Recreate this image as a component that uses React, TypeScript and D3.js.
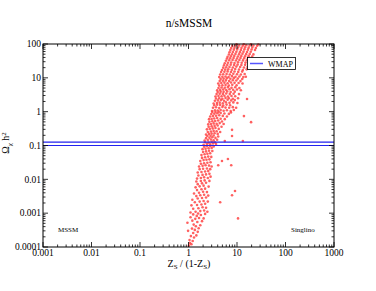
import React, { useEffect, useRef } from 'react'
import * as d3 from 'd3'

// axis decades
const xTicks = [0.001, 0.01, 0.1, 1, 10, 100, 1000]
const xTickLabels = ['0.001', '0.01', '0.1', '1', '10', '100', '1000']
const yTicks = [0.0001, 0.001, 0.01, 0.1, 1, 10, 100]
const yTickLabels = ['0.0001', '0.001', '0.01', '0.1', '1', '10', '100']

// WMAP band (relic density)
const wmap = [0.1, 0.126]

// scan points [Zs/(1-Zs), Omega h^2]
const scanLow: number[][] = [
  [1.02,1.1e-4],[1.08,1.3e-4],[1.15,1.2e-4],[1.05,1.6e-4],[1.22,1.5e-4],[1.3,1.9e-4],[1.12,2.1e-4],[1.45,2.2e-4],
  [1.25,2.6e-4],[1.55,2.8e-4],[0.98,3.0e-4],[1.35,3.2e-4],[1.18,3.5e-4],[1.62,3.6e-4],[1.42,4.1e-4],[1.28,4.6e-4],
  [1.75,4.4e-4],[0.95,5.2e-4],[1.52,5.5e-4],[1.2,6.0e-4],[1.9,5.8e-4],[1.38,6.8e-4],[1.65,7.2e-4],[1.1,7.6e-4],
  [2.05,7.0e-4],[1.48,8.3e-4],[1.8,8.8e-4],[1.25,9.2e-4],[2.2,9.5e-4],[1.58,9.8e-4],
  [1.1,1.05e-3],[1.4,1.1e-3],[1.75,1.15e-3],[2.1,1.2e-3],[2.45,1.1e-3],[1.25,1.35e-3],[1.6,1.4e-3],[1.95,1.5e-3],
  [2.3,1.45e-3],[1.15,1.7e-3],[1.5,1.75e-3],[1.85,1.8e-3],[2.2,1.9e-3],[1.35,2.1e-3],[1.7,2.2e-3],[2.05,2.3e-3],
  [2.5,2.2e-3],[1.2,2.5e-3],[1.55,2.7e-3],[1.9,2.8e-3],[2.3,2.9e-3],[1.45,3.2e-3],[1.75,3.4e-3],[2.1,3.5e-3],
  [2.55,3.3e-3],[1.3,3.8e-3],[1.65,4.0e-3],[2.0,4.3e-3],[2.4,4.2e-3],[1.5,4.8e-3],[1.85,5.1e-3],[2.2,5.3e-3],
  [1.4,5.8e-3],[1.7,6.2e-3],[2.05,6.5e-3],[2.6,6.1e-3],[1.55,7.2e-3],[1.9,7.6e-3],[2.3,7.9e-3],[1.45,8.6e-3],
  [1.8,8.9e-3],[2.15,9.3e-3],[2.7,9.0e-3],
  [1.5,1.05e-2],[1.8,1.1e-2],[2.1,1.15e-2],[2.5,1.1e-2],[2.85,1.2e-2],[1.6,1.3e-2],[1.95,1.35e-2],[2.3,1.4e-2],
  [2.7,1.45e-2],[1.55,1.6e-2],[1.85,1.65e-2],[2.2,1.7e-2],[2.55,1.75e-2],[1.7,2.0e-2],[2.0,2.05e-2],[2.4,2.1e-2],
  [2.8,2.0e-2],[1.65,2.4e-2],[1.95,2.5e-2],[2.25,2.6e-2],[2.65,2.55e-2],[3.0,2.4e-2],[1.8,2.9e-2],[2.1,3.0e-2],
  [2.45,3.1e-2],[2.85,3.2e-2],[1.75,3.5e-2],[2.05,3.7e-2],[2.35,3.8e-2],[2.7,3.9e-2],[1.9,4.3e-2],[2.2,4.5e-2],
  [2.55,4.7e-2],[2.95,4.6e-2],[1.85,5.2e-2],[2.15,5.5e-2],[2.45,5.7e-2],[2.8,5.9e-2],[2.0,6.4e-2],[2.3,6.7e-2],
  [2.65,7.0e-2],[3.1,6.9e-2],[1.95,7.8e-2],[2.25,8.0e-2],[2.6,8.3e-2],[3.0,8.5e-2],[2.1,9.2e-2],[2.4,9.5e-2],
  [2.8,9.7e-2],[3.3,9.4e-2],
]

const scanMid: number[][] = [
  [2.05,0.105],[2.4,0.11],[2.8,0.108],[3.2,0.115],[3.7,0.11],[2.2,0.125],[2.6,0.122],[3.0,0.128],[3.5,0.124],
  [2.15,0.14],[2.5,0.145],[2.9,0.15],[3.3,0.142],[3.9,0.148],[2.3,0.165],[2.7,0.17],[3.1,0.175],[3.6,0.168],
  [2.45,0.19],[2.85,0.195],[3.3,0.198],[4.1,0.185],
  [2.3,0.21],[2.65,0.22],[3.0,0.225],[3.45,0.23],[4.0,0.22],[2.5,0.25],[2.9,0.26],[3.3,0.27],[3.8,0.265],[4.5,0.25],
  [2.4,0.3],[2.75,0.31],[3.15,0.32],[3.6,0.33],[4.2,0.31],[2.6,0.36],[3.0,0.37],[3.45,0.38],[4.0,0.39],[4.8,0.36],
  [2.55,0.42],[2.9,0.43],[3.3,0.45],[3.8,0.44],[4.4,0.46],[5.3,0.43],[2.7,0.5],[3.1,0.52],[3.55,0.53],[4.1,0.55],
  [4.9,0.51],[2.65,0.6],[3.0,0.61],[3.4,0.63],[3.9,0.65],[4.6,0.62],[5.6,0.6],
  [2.8,0.72],[3.2,0.74],[3.7,0.76],[4.3,0.78],[5.1,0.75],[6.2,0.72],[2.95,0.85],[3.4,0.87],[3.95,0.9],[4.6,0.92],
  [5.5,0.88],[6.8,0.86],[3.1,0.98],[3.6,0.97],[4.2,0.99],[7.5,0.95],
  [3.05,1.05],[3.5,1.1],[4.0,1.08],[4.6,1.12],[5.3,1.06],[6.2,1.1],[7.4,1.04],[8.6,1.12],[3.2,1.3],[3.7,1.35],
  [4.3,1.28],[5.0,1.38],[5.8,1.32],[6.9,1.3],[8.2,1.36],[9.6,1.3],[3.4,1.55],[3.9,1.6],[4.5,1.58],[5.2,1.52],
  [6.1,1.62],[7.2,1.55],
  [3.3,1.75],[3.85,1.8],[4.4,1.85],[5.1,1.78],[5.9,1.9],[7.0,1.82],[8.4,1.88],[10.2,1.8],[3.5,2.1],[4.05,2.15],
  [4.7,2.2],[5.4,2.1],[6.4,2.25],[7.6,2.15],[9.0,2.2],[3.7,2.45],[4.3,2.5],[5.0,2.42],[5.8,2.55],[6.8,2.48],
  [8.2,2.4],[10.5,2.5],
  [3.6,2.8],[4.15,2.9],[4.8,2.85],[5.5,2.95],[6.5,2.8],[7.7,2.9],[9.2,2.85],[3.8,3.3],[4.4,3.4],[5.1,3.35],
  [6.0,3.45],[7.1,3.3],[8.5,3.4],[11.0,3.3],[4.0,3.8],[4.6,3.9],[5.3,3.85],[6.3,3.95],[7.4,3.8],[9.0,3.9],
  [3.9,4.3],[4.5,4.4],[5.2,4.5],[6.0,4.35],[7.0,4.6],[8.3,4.45],[10.0,4.5],[12.0,4.3],[4.15,5.0],[4.8,5.2],
  [5.6,5.1],[6.5,5.3],[7.7,5.1],[9.2,5.25],[11.2,5.0],[4.3,5.9],[5.0,6.0],[5.8,6.1],[6.8,5.95],[8.0,6.2],[9.8,6.0],
  [4.1,6.8],[4.75,7.0],[5.5,7.2],[6.4,6.9],[7.5,7.3],[8.9,7.1],[10.8,7.0],[13.0,6.8],[4.4,8.0],[5.1,8.2],
  [5.9,8.4],[6.9,8.1],[8.2,8.5],[9.7,8.3],[11.8,8.0],[4.6,9.3],[5.3,9.5],[6.2,9.7],[7.3,9.4],[8.6,9.8],
  [10.4,9.5],[12.8,9.2],
]

const scanHigh: number[][] = [
  [4.3,10.5],[5.0,10.8],[5.8,11.0],[6.7,10.6],[7.9,11.2],[9.3,10.8],[11.2,11.0],[13.5,10.5],[15.2,10.8],
  [4.5,12.5],[5.2,12.8],[6.1,13.0],[7.1,12.6],[8.4,13.2],[10.0,12.8],[12.0,12.5],[14.4,13.0],
  [4.7,14.8],[5.5,15.2],[6.4,15.5],[7.5,14.9],[8.9,15.4],[10.6,15.0],[12.8,15.3],
  [4.9,17.0],[5.7,17.5],[6.6,18.0],[7.8,17.2],[9.2,18.2],[11.0,17.6],[13.2,17.0],[15.8,17.8],
  [5.2,20.0],[6.0,20.5],[7.0,21.0],[8.2,20.2],[9.7,21.5],[11.6,20.8],[13.9,20.2],[16.5,21.0],
  [5.4,23.5],[6.3,24.0],[7.4,24.5],[8.7,23.8],[10.3,24.6],[12.3,23.9],[14.7,24.2],
  [5.6,27.0],[6.5,28.0],[7.6,28.5],[8.9,27.5],[10.5,28.8],[12.5,27.8],[15.0,28.2],[17.8,27.0],
  [5.9,32.0],[6.9,33.0],[8.1,33.5],[9.5,32.4],[11.2,33.8],[13.3,32.8],[15.9,33.2],[19.0,32.0],
  [6.2,37.0],[7.2,38.0],[8.5,38.5],[10.0,37.4],[11.8,38.8],[14.0,37.8],[16.8,38.2],
  [6.4,42.0],[7.5,43.5],[8.8,44.0],[10.4,42.8],[12.3,44.5],[14.6,43.2],[17.4,43.8],[20.5,42.5],
  [6.8,49.0],[7.9,50.0],[9.3,51.0],[11.0,49.5],[13.0,51.5],[15.4,50.2],[18.3,50.8],[21.8,49.2],
  [7.0,57.0],[8.2,58.0],[9.7,59.0],[11.5,57.5],[13.6,59.5],[16.1,58.2],[19.2,58.8],
  [7.3,66.0],[8.6,68.0],[10.1,69.0],[12.0,67.0],[14.2,69.5],[16.8,68.0],[20.0,68.5],[23.5,66.5],
  [7.6,76.0],[8.9,78.0],[10.5,79.0],[12.4,77.0],[14.7,79.5],[17.4,78.0],[20.7,78.5],[24.5,76.5],
  [8.0,88.0],[9.4,90.0],[11.1,91.0],[13.1,89.0],[15.5,92.0],[18.3,90.0],[21.8,90.5],[26.0,88.5],
  [9.8,98.0],[13.8,97.5],[19.5,98.5],[27.5,97.0],
]

// stray points off the main band
const scanStray: number[][] = [
  [16.1,2.36],[13.9,0.74],[19.5,0.49],[7.9,0.29],[7.9,0.19],[13.2,0.135],[5.6,0.135],
  [4.9,0.035],[6.5,0.04],[7.6,0.026],[4.1,0.026],[9.1,0.0045],[7.9,0.0034],[4.5,0.0021],[10.5,0.0007],
]

const W = 376
const H = 291
const serif = '"Liberation Serif", "DejaVu Serif", serif'

export default function App() {
  const ref = useRef<SVGSVGElement>(null)

  useEffect(() => {
    const svg = d3.select(ref.current)
    svg.selectAll('*').remove()

    const left = 43, right = 334, top = 44, bottom = 247
    const x = d3.scaleLog().domain([0.001, 1000]).range([left, right])
    const y = d3.scaleLog().domain([0.0001, 100]).range([bottom, top])

    svg.append('rect').attr('width', W).attr('height', H).attr('fill', '#fff')

    /* points */
    const pts = [...scanLow, ...scanMid, ...scanHigh, ...scanStray]
      .filter(d => d[1] <= 100 && d[1] >= 0.0001)
    svg.append('g')
      .selectAll('circle')
      .data(pts)
      .enter()
      .append('circle')
      .attr('cx', d => x(d[0]))
      .attr('cy', d => y(d[1]))
      .attr('r', 1.3)
      .attr('fill', '#ff4444')
      .attr('opacity', 0.85)

    /* WMAP lines */
    svg.append('g')
      .selectAll('line')
      .data(wmap)
      .enter()
      .append('line')
      .attr('x1', left).attr('x2', right)
      .attr('y1', d => y(d)).attr('y2', d => y(d))
      .attr('stroke', '#2222ee')
      .attr('stroke-width', 1.2)

    /* ticks on all sides, inward */
    const minorX: number[] = []
    xTicks.slice(0, -1).forEach(t => { for (let k = 2; k < 10; k++) minorX.push(t * k) })
    const minorY: number[] = []
    yTicks.slice(0, -1).forEach(t => { for (let k = 2; k < 10; k++) minorY.push(t * k) })

    const tg = svg.append('g').attr('stroke', '#000').attr('stroke-width', 0.8)
    const hTicks = (vals: number[], len: number) => {
      vals.forEach(v => {
        tg.append('line').attr('x1', x(v)).attr('x2', x(v)).attr('y1', bottom).attr('y2', bottom - len)
        tg.append('line').attr('x1', x(v)).attr('x2', x(v)).attr('y1', top).attr('y2', top + len)
      })
    }
    const vTicks = (vals: number[], len: number) => {
      vals.forEach(v => {
        tg.append('line').attr('y1', y(v)).attr('y2', y(v)).attr('x1', left).attr('x2', left + len)
        tg.append('line').attr('y1', y(v)).attr('y2', y(v)).attr('x1', right).attr('x2', right - len)
      })
    }
    hTicks(xTicks, 5)
    hTicks(minorX, 2.5)
    vTicks(yTicks, 5)
    vTicks(minorY, 2.5)

    svg.append('rect')
      .attr('x', left).attr('y', top)
      .attr('width', right - left).attr('height', bottom - top)
      .attr('fill', 'none').attr('stroke', '#000').attr('stroke-width', 1)

    /* tick labels */
    svg.append('g')
      .selectAll('text')
      .data(xTicks)
      .enter()
      .append('text')
      .attr('x', d => x(d))
      .attr('y', 256)
      .attr('text-anchor', 'middle')
      .attr('font-family', serif)
      .attr('font-size', 9.5)
      .text((d, i) => xTickLabels[i])

    svg.append('g')
      .selectAll('text')
      .data(yTicks)
      .enter()
      .append('text')
      .attr('x', 41)
      .attr('y', d => y(d) + 3.2)
      .attr('text-anchor', 'end')
      .attr('font-family', serif)
      .attr('font-size', 9.5)
      .text((d, i) => yTickLabels[i])

    /* titles */
    svg.append('text')
      .attr('x', 189).attr('y', 27)
      .attr('text-anchor', 'middle')
      .attr('font-family', serif)
      .attr('font-size', 11.5)
      .text('n/sMSSM')

    const xl = svg.append('text')
      .attr('x', 189).attr('y', 266.5)
      .attr('text-anchor', 'middle')
      .attr('font-family', serif)
      .attr('font-size', 10)
    xl.append('tspan').text('Z')
    xl.append('tspan').attr('font-size', 7).attr('dy', 2.5).text('S')
    xl.append('tspan').attr('dy', -2.5).text(' / (1-Z')
    xl.append('tspan').attr('font-size', 7).attr('dy', 2.5).text('S')
    xl.append('tspan').attr('dy', -2.5).text(')')

    const yl = svg.append('text')
      .attr('transform', 'translate(9,143) rotate(-90)')
      .attr('text-anchor', 'middle')
      .attr('font-family', serif)
      .attr('font-size', 10)
    yl.append('tspan').text('Ω')
    yl.append('tspan').attr('font-size', 7).attr('dy', 2.5).text('χ')
    yl.append('tspan').attr('dy', -2.5).text(' h')
    yl.append('tspan').attr('font-size', 7).attr('dy', -3.5).text('2')

    /* region notes */
    svg.append('text')
      .attr('x', 58).attr('y', 232)
      .attr('font-family', serif).attr('font-size', 7)
      .text('MSSM')
    svg.append('text')
      .attr('x', 291).attr('y', 232)
      .attr('font-family', serif).attr('font-size', 7)
      .text('Singlino')

    /* legend */
    const lg = svg.append('g')
    lg.append('rect')
      .attr('x', 247.5).attr('y', 57.5).attr('width', 48).attr('height', 12)
      .attr('fill', '#fff').attr('stroke', '#000').attr('stroke-width', 0.8)
    lg.append('line')
      .attr('x1', 250).attr('x2', 263).attr('y1', 63.5).attr('y2', 63.5)
      .attr('stroke', '#5555ff').attr('stroke-width', 1.5)
    lg.append('text')
      .attr('x', 268).attr('y', 66.5)
      .attr('font-family', serif).attr('font-size', 8)
      .text('WMAP')
  }, [])

  return (
    <svg ref={ref} width={W} height={H}
      style={{ position: 'absolute', left: 0, top: 0 }} />
  )
}
